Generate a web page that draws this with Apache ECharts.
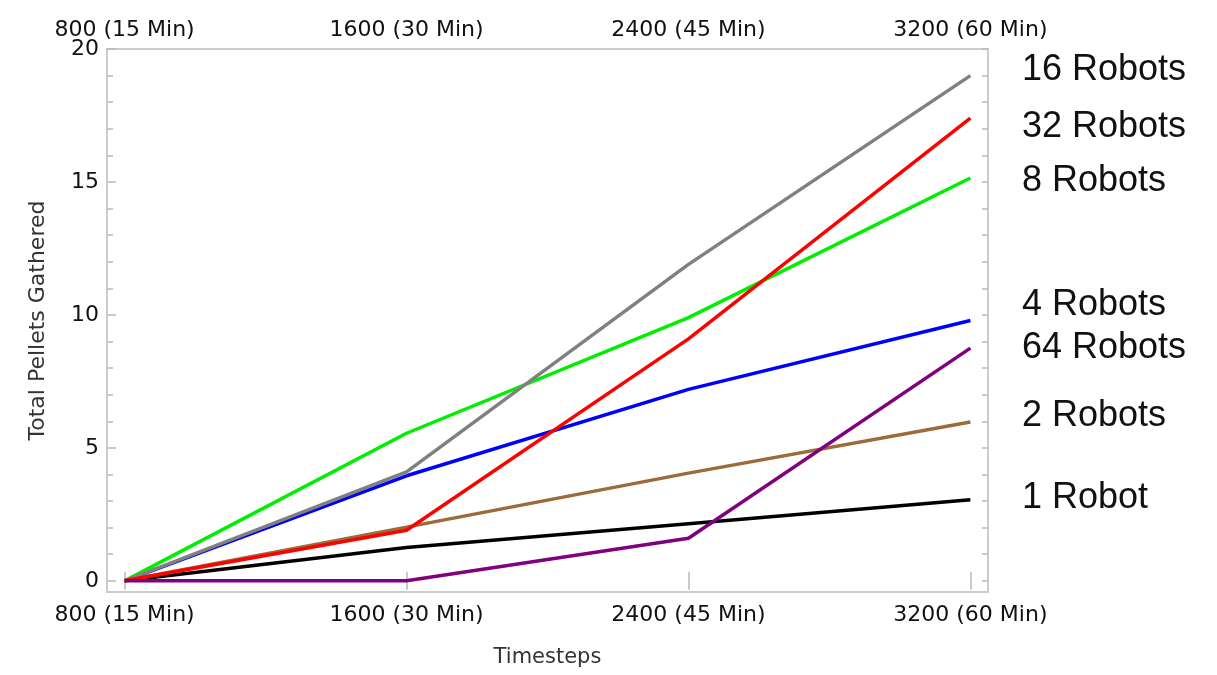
<!DOCTYPE html>
<html>
<head>
<meta charset="utf-8">
<title>Total Pellets Gathered</title>
<script src="https://cdn.jsdelivr.net/npm/echarts@6/dist/echarts.min.js"></script>
<style>
  html, body { margin: 0; padding: 0; background: #fff; }
  #chart { width: 1217px; height: 675px; }
</style>
</head>
<body>
<div id="chart"></div>
<script>
const timesteps = [800, 1600, 2400, 3200];
const minutes = [15, 30, 45, 60];
const yMajorTicks = [0, 5, 10, 15, 20];
const yMinorTicks = [0, 1, 2, 3, 4, 5, 6, 7, 8, 9, 10, 11, 12, 13, 14, 15, 16, 17, 18, 19, 20];

const robots1 = [0, 1.25, 2.15, 3.05];
const robots2 = [0, 2.02, 4.05, 5.97];
const robots4 = [0, 3.95, 7.2, 9.79];
const robots8 = [0, 5.55, 9.9, 15.15];
const robots16 = [0, 4.1, 11.9, 19.0];
const robots32 = [0, 1.9, 9.1, 17.4];
const robots64 = [0, 0, 1.6, 8.75];

const seriesNames = ['1 Robot', '2 Robots', '4 Robots', '8 Robots', '16 Robots', '32 Robots', '64 Robots'];
const seriesValues = [robots1, robots2, robots4, robots8, robots16, robots32, robots64];
const seriesColors = ['#000000', '#9c6b3a', '#0000ff', '#00ee00', '#808080', '#ff0000', '#800080'];

// label order down the right margin, with the y position each one sits at
const labelOrder = ['16 Robots', '32 Robots', '8 Robots', '4 Robots', '64 Robots', '2 Robots', '1 Robot'];
const labelTops = [68, 125, 179, 303, 346, 414, 496];

const FRAME = '#cccccc';
const TICK = '#bbbbbb';
const labelFont = { fontFamily: 'DejaVu Sans', fontSize: 22, color: '#111' };

function timeLabel(value) {
  const idx = timesteps.indexOf(value);
  return idx >= 0 ? `${value} (${minutes[idx]} Min)` : '';
}

const chart = echarts.init(document.getElementById('chart'), null, { renderer: 'canvas' });

const xBase = {
  type: 'value',
  min: 750,
  max: 3250,
  axisLine: { show: false },
  splitLine: { show: false },
  axisTick: { inside: true, length: 9, customValues: timesteps, lineStyle: { color: TICK, width: 1.5 } },
  axisLabel: Object.assign({ customValues: timesteps, formatter: timeLabel }, labelFont),
};

const yBase = {
  type: 'value',
  min: -0.42,
  max: 20,
  axisLine: { show: false },
  splitLine: { show: false },
};

chart.setOption({
  animation: false,
  backgroundColor: '#ffffff',
  grid: {
    left: 107,
    right: 229,
    top: 49,
    bottom: 83,
    show: true,
    borderColor: FRAME,
    borderWidth: 2,
    backgroundColor: 'transparent',
  },
  xAxis: [
    Object.assign({}, xBase, {
      position: 'bottom',
      name: 'Timesteps',
      nameLocation: 'middle',
      nameGap: 55,
      nameTextStyle: { fontFamily: 'DejaVu Sans', fontSize: 21, color: '#333' },
      axisLabel: Object.assign({}, xBase.axisLabel, { margin: 12 }),
    }),
    Object.assign({}, xBase, {
      position: 'top',
      axisLabel: Object.assign({}, xBase.axisLabel, { margin: 8 }),
    }),
  ],
  yAxis: [
    Object.assign({}, yBase, {
      position: 'left',
      name: 'Total Pellets Gathered',
      nameLocation: 'middle',
      nameGap: 58,
      nameTextStyle: { fontFamily: 'DejaVu Sans', fontSize: 22, color: '#333' },
      axisTick: { inside: true, length: 9, customValues: yMajorTicks, lineStyle: { color: TICK, width: 1.5 } },
      axisLabel: Object.assign({ customValues: yMajorTicks, margin: 8 }, labelFont),
    }),
    Object.assign({}, yBase, {
      position: 'left',
      axisTick: { inside: true, length: 6, customValues: yMinorTicks, lineStyle: { color: TICK, width: 1.5 } },
      axisLabel: { show: false },
    }),
    Object.assign({}, yBase, {
      position: 'right',
      axisTick: { inside: true, length: 6, customValues: yMinorTicks, lineStyle: { color: TICK, width: 1.5 } },
      axisLabel: { show: false },
    }),
  ],
  series: seriesNames.map((name, i) => ({
    name,
    type: 'line',
    xAxisIndex: 0,
    yAxisIndex: 0,
    showSymbol: false,
    symbol: 'none',
    data: timesteps.map((t, j) => [t, seriesValues[i][j]]),
    lineStyle: { color: seriesColors[i], width: 3.5 },
    z: 2 + i,
  })),
  graphic: labelOrder.map((name, i) => ({
    type: 'text',
    left: 1022,
    top: labelTops[i] - 16,
    style: {
      text: name,
      font: '36px "Liberation Sans", Arial, sans-serif',
      fill: '#111',
    },
  })),
});
</script>
</body>
</html>
